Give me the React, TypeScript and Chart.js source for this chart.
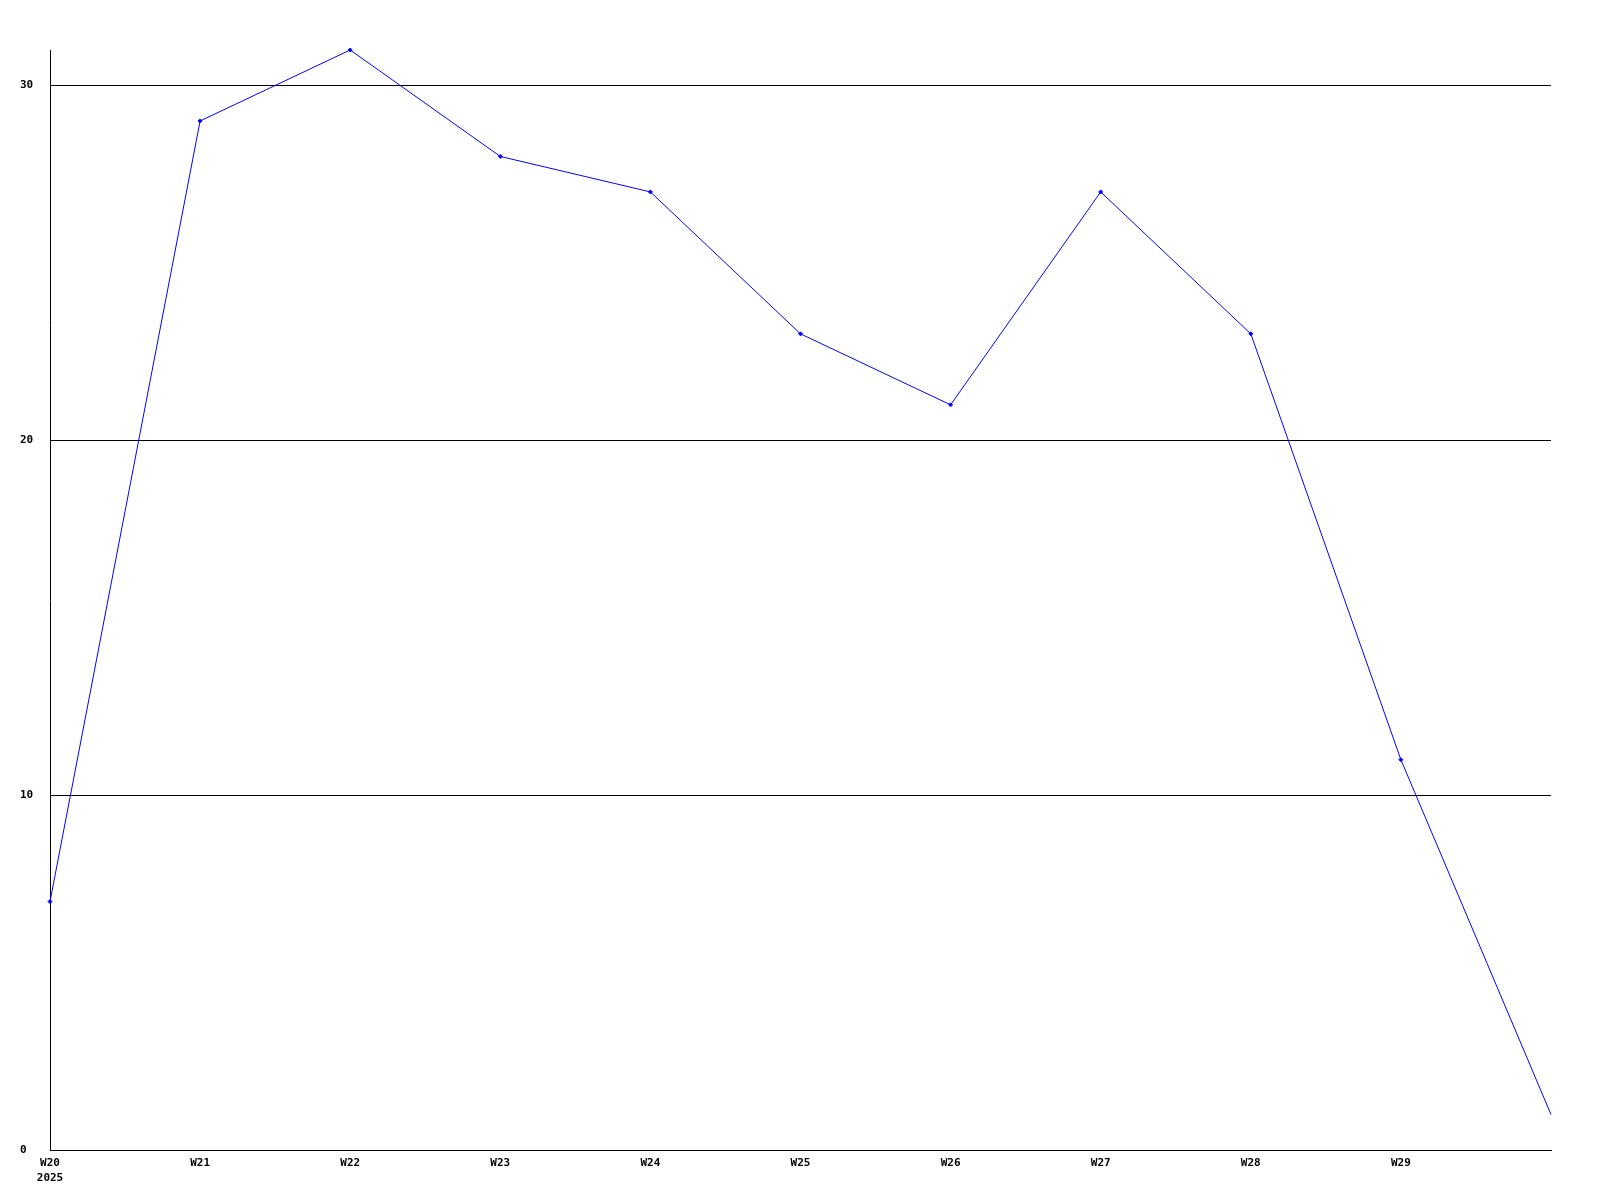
import React, { useEffect, useRef } from "react";
import { Chart, registerables } from "chart.js";

Chart.register(...registerables);

const weeks = ["W20", "W21", "W22", "W23", "W24", "W25", "W26", "W27", "W28", "W29", ""];
const firstYear = "2025";
const values = [7, 29, 31, 28, 27, 23, 21, 27, 23, 11, 1];
const yTicks = [0, 10, 20, 30];

export default function App() {
  const ref = useRef<HTMLCanvasElement | null>(null);

  useEffect(() => {
    document.body.style.margin = "0";
    const canvas = ref.current;
    if (!canvas) return;
    const labels: (string | string[])[] = weeks.map((w, i) => (i === 0 ? [w, firstYear] : w));
    const font = { family: "'DejaVu Sans Mono', monospace", size: 11, weight: "bold" as const, lineHeight: 15 / 11 };
    const chart = new Chart(canvas, {
      type: "line",
      data: {
        labels,
        datasets: [
          {
            data: values,
            borderColor: "#0000ff",
            backgroundColor: "#0000ff",
            borderWidth: 1,
            pointStyle: "rectRot",
            pointRadius: values.map((_, i) => (i === values.length - 1 ? 0 : 2)),
            pointBorderWidth: 1,
            tension: 0,
            fill: false,
            clip: false,
          },
        ],
      },
      options: {
        responsive: false,
        animation: false,
        devicePixelRatio: 1,
        layout: { padding: { left: 20, top: 50, right: 49, bottom: 0 } },
        plugins: { legend: { display: false }, tooltip: { enabled: false } },
        scales: {
          x: {
            type: "category",
            offset: false,
            grid: { display: false, drawTicks: false },
            border: { display: true, color: "#000000", width: 1 },
            ticks: {
              autoSkip: false,
              maxRotation: 0,
              color: "#000000",
              font,
              padding: 6,
            },
            afterFit: (s: any) => {
              s.height = 50;
            },
          },
          y: {
            min: 0,
            max: 31,
            grid: { display: true, color: "#000000", lineWidth: 1, drawTicks: false },
            border: { display: true, color: "#000000", width: 1 },
            ticks: { color: "#000000", font, padding: 17, stepSize: 10, crossAlign: "far" },
            afterBuildTicks: (s: any) => {
              s.ticks = yTicks.map((v) => ({ value: v }));
            },
            afterFit: (s: any) => {
              s.width = 30;
            },
          },
        },
      },
    });
    return () => chart.destroy();
  }, []);

  return (
    <div style={{ position: "absolute", left: 0, top: 0, width: 1600, height: 1200, background: "#ffffff" }}>
      <canvas ref={ref} width={1600} height={1200} style={{ width: 1600, height: 1200 }} />
    </div>
  );
}
